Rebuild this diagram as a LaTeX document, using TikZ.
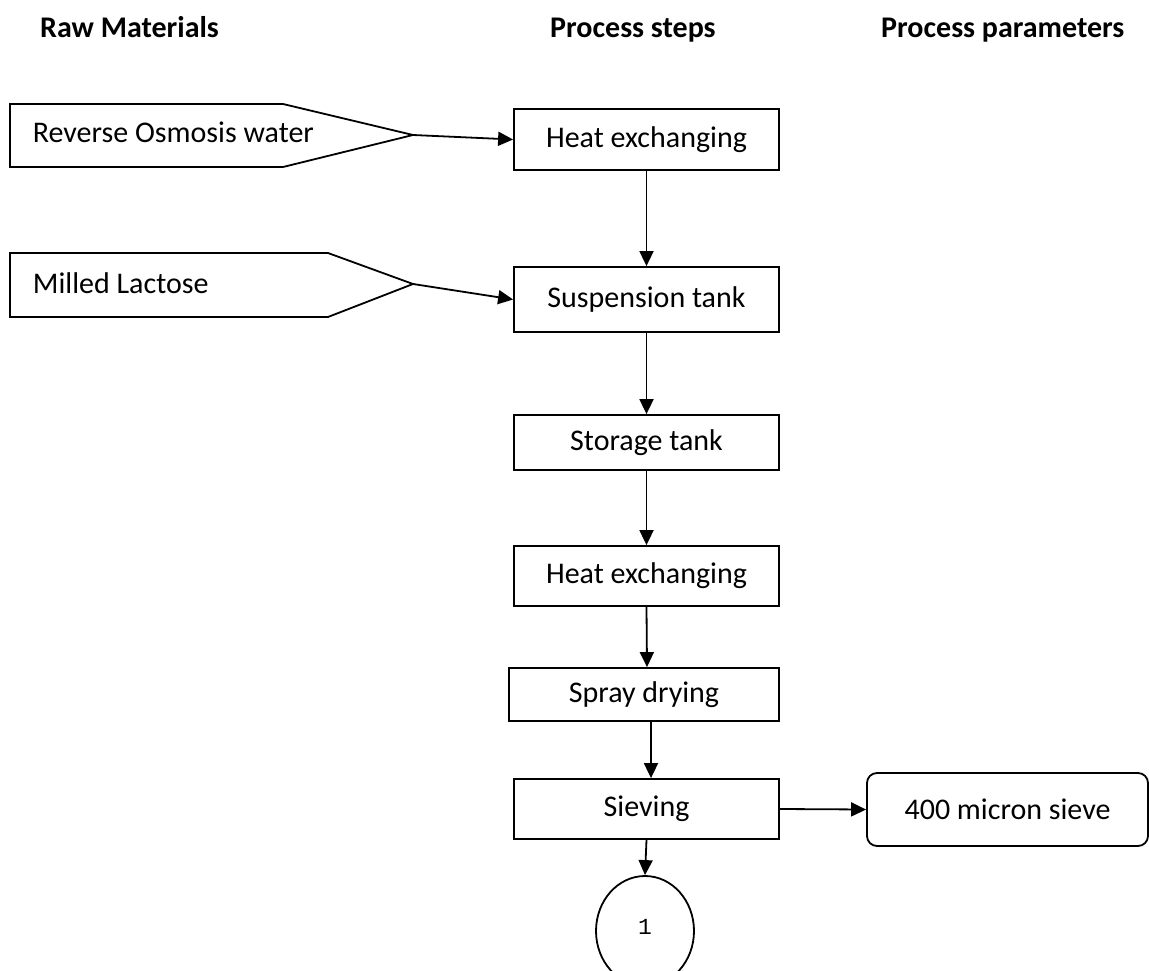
\documentclass[tikz,border=0pt]{standalone}
\usepackage{fontspec}
\setmainfont{Carlito}
\newfontfamily\monof{Liberation Mono}
\usetikzlibrary{arrows.meta,shapes.geometric}
\begin{document}
\begin{tikzpicture}[x=1pt,y=-1pt,
  line width=1.8pt,
  every node/.style={font=\fontsize{30}{36}\selectfont},
  hdr/.style={anchor=base west,font=\fontsize{30}{36}\selectfont\bfseries},
  stepbox/.style={draw,rectangle,inner sep=0pt,minimum width=265pt},
  parbox/.style={draw,rectangle,rounded corners=10pt,inner sep=0pt},
  flow/.style={-{Triangle[length=15pt,width=14pt]}},
  rawtxt/.style={anchor=base west,inner sep=0pt}]
\useasboundingbox (0,0) rectangle (1149,971);
% headers
\node[hdr] (h1) at (36,38) {Raw Materials};
\node[hdr] (h2) at (546,38) {Process steps};
\node[hdr] (h3) at (877,38) {Process parameters};
% raw material shapes
\draw (10,104) -- (283,104) -- (413,135) coordinate (rotip) -- (283,167) -- (10,167) -- cycle;
\node[rawtxt] (ro) at (32,143) {Reverse Osmosis water};
\draw (10,253) -- (328,253) -- (413,284) coordinate (mltip) -- (328,317) -- (10,317) -- cycle;
\node[rawtxt] (ml) at (32,293) {Milled Lactose};
% process steps
\node[stepbox,minimum height=61pt] (he1) at (646.5,139.5) {Heat exchanging};
\node[stepbox,minimum height=65pt] (susp) at (646.5,299.5) {Suspension tank};
\node[stepbox,minimum height=55pt] (stor) at (646.5,442.5) {Storage tank};
\node[stepbox,minimum height=60pt] (he2) at (646.5,576) {Heat exchanging};
\node[stepbox,minimum width=270pt,minimum height=53pt] (spray) at (644,694.5) {Spray drying};
\node[stepbox,minimum height=60pt] (siev) at (646.5,809) {Sieving};
\node[parbox,minimum width=281pt,minimum height=73pt] (par) at (1007.5,809.5) {400 micron sieve};
\node[draw,ellipse,inner sep=0pt,minimum width=98pt,minimum height=110pt,
      font=\monof\fontsize{23}{27}\selectfont] (c1) at (645,931) {\raisebox{9pt}{1}};
% connectors
\draw[flow] (rotip) -- (he1.west);
\draw[flow] (mltip) -- (susp.west);
\draw[flow] (he1.south) -- (susp.north);
\draw[flow] (susp.south) -- (stor.north);
\draw[flow] (stor.south) -- (he2.north);
\draw[flow] (he2.south) -- ([xshift=3pt]spray.north);
\draw[flow] ([xshift=7pt]spray.south) -- ([xshift=4.5pt]siev.north);
\draw[flow] (siev.east) -- (par.west);
\draw[flow] (siev.south) -- (c1.north);
\end{tikzpicture}
\end{document}
